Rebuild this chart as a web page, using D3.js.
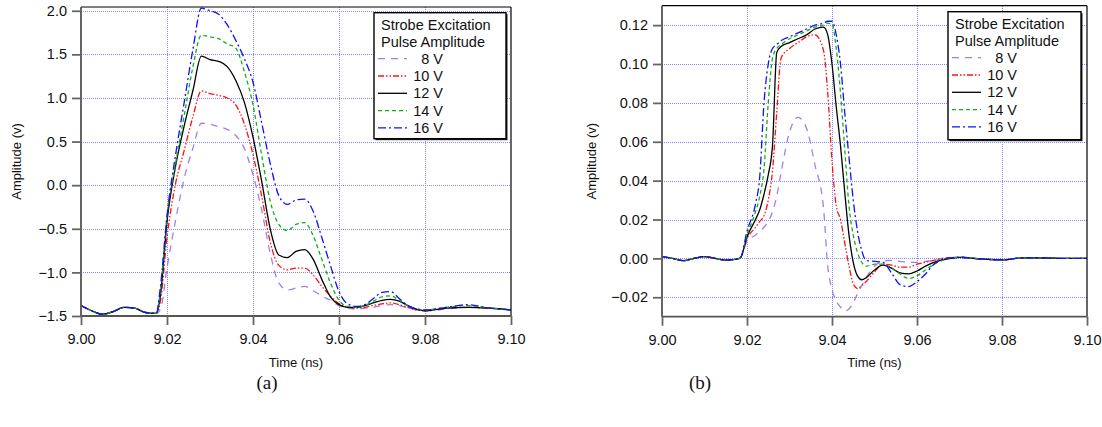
<!DOCTYPE html>
<html><head><meta charset="utf-8">
<script src="https://cdn.jsdelivr.net/npm/d3@7"></script>
<style>
html,body{margin:0;padding:0;background:#fff;}
svg{display:block;}
text{font-family:"Liberation Sans",Arial,Helvetica,sans-serif;fill:#111;}
</style></head>
<body>
<svg id="chart" width="1102" height="427"></svg>
<script>
// ---------- DATA ----------
const seriesNames = ["8 V", "10 V", "12 V", "14 V", "16 V"];
const legendTitle = ["Strobe Excitation", "Pulse Amplitude"];
const xTicks = [9.00, 9.02, 9.04, 9.06, 9.08, 9.10];
const yTicksA = [-1.5, -1.0, -0.5, 0.0, 0.5, 1.0, 1.5, 2.0];
const yTicksB = [-0.02, 0.00, 0.02, 0.04, 0.06, 0.08, 0.10, 0.12];

// panel (a) time grid (ns)
const timeA = [9.000, 9.0025, 9.005, 9.0075, 9.010, 9.0125, 9.015, 9.0175, 9.0185, 9.020, 9.022, 9.024, 9.026, 9.028,
  9.030, 9.032, 9.034, 9.036, 9.038, 9.040, 9.042, 9.044, 9.046, 9.048, 9.050, 9.052, 9.054, 9.056, 9.058, 9.060,
  9.062, 9.064, 9.066, 9.068, 9.070, 9.072, 9.074, 9.076, 9.078, 9.080, 9.085, 9.090, 9.095, 9.100];
const a8V  = [-1.38, -1.44, -1.48, -1.45, -1.40, -1.41, -1.46, -1.47, -1.42, -0.95, -0.40, 0.08, 0.42, 0.71,
  0.70, 0.67, 0.64, 0.57, 0.42, 0.12, -0.28, -0.78, -1.12, -1.20, -1.18, -1.16, -1.21, -1.27, -1.32, -1.38,
  -1.41, -1.42, -1.41, -1.40, -1.38, -1.37, -1.38, -1.41, -1.43, -1.44, -1.42, -1.40, -1.41, -1.43];
const a10V = [-1.38, -1.44, -1.48, -1.45, -1.40, -1.41, -1.46, -1.47, -1.32, -0.60, 0.02, 0.40, 0.78, 1.08,
  1.05, 1.03, 1.00, 0.92, 0.70, 0.35, -0.12, -0.65, -0.92, -0.97, -0.95, -0.95, -1.03, -1.16, -1.27, -1.36,
  -1.40, -1.41, -1.40, -1.38, -1.36, -1.35, -1.37, -1.40, -1.43, -1.44, -1.41, -1.40, -1.41, -1.43];
const a12V = [-1.38, -1.44, -1.48, -1.45, -1.40, -1.41, -1.46, -1.47, -1.25, -0.42, 0.22, 0.68, 1.08, 1.48,
  1.44, 1.42, 1.36, 1.20, 0.95, 0.55, 0.05, -0.50, -0.80, -0.83, -0.76, -0.74, -0.85, -1.08, -1.28, -1.37,
  -1.40, -1.40, -1.38, -1.35, -1.32, -1.31, -1.33, -1.38, -1.42, -1.44, -1.41, -1.40, -1.41, -1.43];
const a14V = [-1.38, -1.44, -1.48, -1.45, -1.40, -1.41, -1.46, -1.47, -1.20, -0.35, 0.25, 0.80, 1.35, 1.72,
  1.70, 1.68, 1.62, 1.57, 1.30, 0.92, 0.35, -0.18, -0.45, -0.52, -0.45, -0.43, -0.58, -0.85, -1.12, -1.32,
  -1.39, -1.40, -1.38, -1.33, -1.28, -1.27, -1.32, -1.38, -1.42, -1.43, -1.40, -1.38, -1.41, -1.43];
const a16V = [-1.38, -1.44, -1.48, -1.45, -1.40, -1.41, -1.46, -1.47, -1.15, -0.35, 0.35, 0.95, 1.55, 2.03,
  2.00, 1.96, 1.84, 1.66, 1.45, 1.18, 0.72, 0.25, -0.12, -0.22, -0.17, -0.16, -0.30, -0.60, -0.92, -1.22,
  -1.36, -1.39, -1.37, -1.30, -1.23, -1.22, -1.30, -1.38, -1.42, -1.43, -1.40, -1.37, -1.41, -1.43];

// panel (b) time grid (ns)
const timeB = [9.000, 9.0025, 9.005, 9.0075, 9.010, 9.0125, 9.015, 9.0175, 9.0185, 9.020, 9.022, 9.023, 9.024, 9.025,
  9.026, 9.027, 9.028, 9.030, 9.032, 9.034, 9.036, 9.038, 9.039, 9.040, 9.041, 9.042, 9.043, 9.044, 9.045, 9.046,
  9.047, 9.048, 9.050, 9.052, 9.054, 9.056, 9.058, 9.060, 9.062, 9.064, 9.066, 9.068, 9.070, 9.075, 9.080, 9.085,
  9.090, 9.095, 9.100];
const b8V  = [0.0009, 0.0, -0.0012, 0.0, 0.0009, 0.0, -0.0009, -0.0004, 0.0005, 0.009, 0.012, 0.014, 0.016, 0.019,
  0.024, 0.032, 0.044, 0.065, 0.0725, 0.067, 0.048, 0.026, -0.004, -0.016, -0.022, -0.025, -0.027, -0.026, -0.023, -0.018,
  -0.014, -0.010, -0.004, -0.0015, -0.001, -0.0015, -0.002, -0.002, -0.0015, -0.001, 0.0, 0.0003, 0.0005, -0.0003, -0.0008, 0.0003,
  0.0002, 0.0, 0.0];
const b10V = [0.0009, 0.0, -0.0012, 0.0, 0.0009, 0.0, -0.0009, -0.0004, 0.0005, 0.010, 0.016, 0.019, 0.022, 0.030,
  0.045, 0.075, 0.103, 0.108, 0.111, 0.114, 0.115, 0.107, 0.085, 0.050, 0.027, 0.020, 0.008, -0.004, -0.013, -0.0155,
  -0.014, -0.012, -0.007, -0.003, -0.0035, -0.0045, -0.0045, -0.003, -0.002, -0.001, 0.0, 0.0003, 0.0005, -0.0003, -0.0008, 0.0003,
  0.0002, 0.0, 0.0];
const b12V = [0.0009, 0.0, -0.0012, 0.0, 0.0009, 0.0, -0.0009, -0.0004, 0.0005, 0.011, 0.020, 0.025, 0.033, 0.043,
  0.058, 0.106, 0.109, 0.111, 0.113, 0.115, 0.118, 0.119, 0.115, 0.100, 0.078, 0.058, 0.034, 0.012, -0.002, -0.009,
  -0.011, -0.010, -0.006, -0.0035, -0.005, -0.0075, -0.008, -0.0065, -0.004, -0.002, -0.0008, 0.0, 0.0005, -0.0003, -0.0008, 0.0003,
  0.0002, 0.0, 0.0];
const b14V = [0.0009, 0.0, -0.0012, 0.0, 0.0009, 0.0, -0.0009, -0.0004, 0.0005, 0.012, 0.024, 0.032, 0.046, 0.080,
  0.103, 0.108, 0.110, 0.113, 0.115, 0.117, 0.119, 0.120, 0.121, 0.1205, 0.108, 0.085, 0.056, 0.027, 0.012, 0.003,
  -0.002, -0.004, -0.003, -0.003, -0.005, -0.008, -0.0103, -0.009, -0.006, -0.003, -0.001, 0.0003, 0.0006, -0.0003, -0.0008, 0.0003,
  0.0002, 0.0, 0.0];
const b16V = [0.0009, 0.0, -0.0012, 0.0, 0.0009, 0.0, -0.0009, -0.0004, 0.0005, 0.014, 0.028, 0.042, 0.080, 0.100,
  0.108, 0.110, 0.112, 0.114, 0.116, 0.118, 0.120, 0.121, 0.122, 0.122, 0.115, 0.100, 0.075, 0.052, 0.030, 0.014,
  0.004, -0.001, -0.0015, -0.002, -0.0075, -0.0135, -0.0145, -0.012, -0.008, -0.003, -0.0005, 0.0003, 0.0006, -0.0003, -0.0008, 0.0003,
  0.0002, 0.0, 0.0];

// ---------- STYLE ----------
const styles = [
  {color: "#a67ee8", dash: "7,6"},
  {color: "#ff1010", dash: "6,2,1.5,2,1.5,2"},
  {color: "#000000", dash: null},
  {color: "#10b010", dash: "4,3"},
  {color: "#1010ff", dash: "8,3,2,3"}
];

const svg = d3.select("#chart");

function panel(cfg) {
  const x = d3.scaleLinear().domain([9.0, 9.1]).range([cfg.left, cfg.right]);
  const y = d3.scaleLinear().domain(cfg.yDomain).range([cfg.bottom, cfg.top]);
  const g = svg.append("g");
  const px = v => Math.round(v) + 0.5;

  // grid
  g.append("g").selectAll("line").data(xTicks.slice(1, -1)).join("line")
    .attr("x1", d => px(x(d))).attr("x2", d => px(x(d))).attr("y1", cfg.top).attr("y2", cfg.bottom)
    .attr("stroke", "#8585ff").attr("stroke-width", 1).attr("stroke-dasharray", "1,1")
    .attr("shape-rendering", "crispEdges");
  g.append("g").selectAll("line").data(cfg.yTicks).join("line")
    .attr("x1", cfg.left).attr("x2", cfg.right).attr("y1", d => px(y(d))).attr("y2", d => px(y(d)))
    .attr("stroke", "#8585ff").attr("stroke-width", 1).attr("stroke-dasharray", "1,1")
    .attr("shape-rendering", "crispEdges");

  // curves
  const clipId = "clip" + cfg.id;
  svg.append("clipPath").attr("id", clipId).append("rect")
    .attr("x", cfg.left).attr("y", cfg.top).attr("width", cfg.right - cfg.left).attr("height", cfg.bottom - cfg.top);
  const line = d3.line().x(d => x(d[0])).y(d => y(d[1])).curve(d3.curveMonotoneX);
  const lg = g.append("g").attr("clip-path", `url(#${clipId})`);
  cfg.series.forEach((vals, i) => {
    const pts = cfg.time.map((t, k) => [t, vals[k]]);
    lg.append("path").datum(pts).attr("d", line).attr("fill", "none")
      .attr("stroke", styles[i].color).attr("stroke-width", 1.3)
      .attr("stroke-dasharray", styles[i].dash);
  });

  // frame top/right
  g.append("line").attr("x1", cfg.left).attr("x2", cfg.right).attr("y1", cfg.top).attr("y2", cfg.top)
    .attr("stroke", "#000").attr("stroke-width", 1.2);
  g.append("line").attr("x1", cfg.right).attr("x2", cfg.right).attr("y1", cfg.top).attr("y2", cfg.bottom)
    .attr("stroke", "#000").attr("stroke-width", 1.2);

  // axes
  const xAxis = d3.axisBottom(x).tickValues(xTicks).tickFormat(d3.format(".2f")).tickSize(9).tickPadding(9);
  const ax = g.append("g").attr("transform", `translate(0,${cfg.bottom})`).call(xAxis);
  const yAxis = d3.axisLeft(y).tickValues(cfg.yTicks).tickFormat(d3.format(cfg.fmt)).tickSize(9).tickPadding(5);
  const ay = g.append("g").attr("transform", `translate(${cfg.left},0)`).call(yAxis);
  [ax, ay].forEach(a => {
    a.select(".domain").attr("stroke", "#555").attr("stroke-width", 1.8);
    a.selectAll(".tick line").attr("stroke", "#666").attr("stroke-width", 1.8);
    a.selectAll(".tick text").style("font-size", "14.5px").style("font-family", '"Liberation Sans",Arial,sans-serif').attr("fill", "#111");
  });
  ay.select(".domain").attr("d", `M0,${cfg.bottom}V${cfg.top}`);
  ax.select(".domain").attr("d", `M${cfg.left},0H${cfg.right}`);

  // axis titles
  g.append("text").attr("x", (cfg.left + cfg.right) / 2).attr("y", 367).attr("text-anchor", "middle")
    .style("font-size", "13px").text("Time (ns)");
  g.append("text").attr("transform", `translate(${cfg.ylabX},${(cfg.top + cfg.bottom) / 2}) rotate(-90)`)
    .attr("text-anchor", "middle").style("font-size", "13px").text("Amplitude (v)");

  // legend
  const L = cfg.legend;
  g.append("rect").attr("x", L.x + 1.5).attr("y", L.y + 1.5).attr("width", L.w).attr("height", L.h)
    .attr("fill", "#222");
  g.append("rect").attr("x", L.x).attr("y", L.y).attr("width", L.w).attr("height", L.h)
    .attr("fill", "#fff").attr("stroke", "#000").attr("stroke-width", 1.4);
  legendTitle.forEach((t, i) => {
    g.append("text").attr("x", L.x + 7).attr("y", L.y + 17 + i * 17).style("font-size", "14.5px").text(t);
  });
  seriesNames.forEach((n, i) => {
    const yy = L.y + 51 + i * 17.3;
    g.append("line").attr("x1", L.x + 4).attr("x2", L.x + 33).attr("y1", yy - 5).attr("y2", yy - 5)
      .attr("stroke", styles[i].color).attr("stroke-width", 1.3).attr("stroke-dasharray", styles[i].dash);
    g.append("text").attr("x", L.x + 69).attr("y", yy).attr("text-anchor", "end")
      .style("font-size", "14.5px").text(n);
  });

  // caption
  svg.append("text").attr("x", cfg.capX).attr("y", 389).attr("text-anchor", "middle")
    .style("font-family", '"Liberation Serif","Times New Roman",serif').style("font-size", "19px").text(cfg.caption);
}

panel({id: "a", left: 81, right: 511, top: 7, bottom: 316, yDomain: [-1.5, 2.043], yTicks: yTicksA, fmt: ".1f",
  time: timeA, series: [a8V, a10V, a12V, a14V, a16V], ylabX: 21,
  legend: {x: 374, y: 12.7, w: 132, h: 126}, caption: "(a)", capX: 267});
panel({id: "b", left: 662, right: 1087, top: 5.7, bottom: 316.7, yDomain: [-0.03, 0.13], yTicks: yTicksB, fmt: ".2f",
  time: timeB, series: [b8V, b10V, b12V, b14V, b16V], ylabX: 596,
  legend: {x: 948, y: 11.7, w: 133, h: 128}, caption: "(b)", capX: 700});
</script>
</body></html>
